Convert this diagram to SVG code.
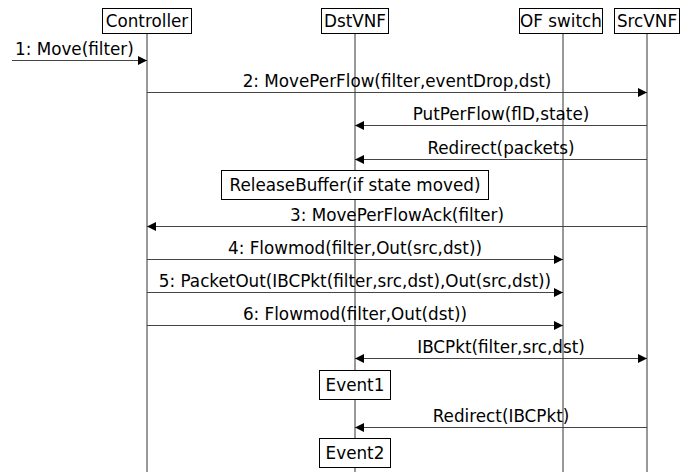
<svg xmlns="http://www.w3.org/2000/svg" width="695" height="472" viewBox="0 0 695 472">
<style>
text{font-family:"DejaVu Sans",sans-serif;font-size:16.8px;fill:#000}
.box{fill:#fff;stroke:#000;stroke-width:1}
.life{stroke:#555;stroke-width:1.2}
.msg{stroke:#444;stroke-width:1;fill:none}
</style>
<defs>
<marker id="ah" markerWidth="9" markerHeight="9" refX="9" refY="4.5" orient="auto" markerUnits="userSpaceOnUse">
<path d="M0,0 L9,4.5 L0,9 Z" fill="#000"/>
</marker>
<marker id="ahs" markerWidth="9" markerHeight="9" refX="0" refY="4.5" orient="auto" markerUnits="userSpaceOnUse">
<path d="M9,0 L0,4.5 L9,9 Z" fill="#000"/>
</marker>
</defs>
<rect width="695" height="472" fill="#fff"/>
<g id="lifelines">
<line class="life" x1="147" y1="33" x2="147" y2="472"/>
<line class="life" x1="355" y1="33" x2="355" y2="472"/>
<line class="life" x1="563" y1="33" x2="563" y2="472"/>
<line class="life" x1="647" y1="33" x2="647" y2="472"/>
</g>
<g id="Controller"><rect class="box" x="102.5" y="8.5" width="89" height="25"/><text x="147" y="27" text-anchor="middle">Controller</text></g>
<g id="DstVNF"><rect class="box" x="321.5" y="8.5" width="67" height="25"/><text x="355" y="27" text-anchor="middle">DstVNF</text></g>
<g id="OFswitch"><rect class="box" x="519.5" y="8.5" width="83" height="25"/><text x="561" y="27" text-anchor="middle">OF switch</text></g>
<g id="SrcVNF"><rect class="box" x="614.5" y="8.5" width="65" height="25"/><text x="647" y="27" text-anchor="middle">SrcVNF</text></g>
<g id="connectors">
<line class="msg" x1="12" y1="60.5" x2="147" y2="60.5" marker-end="url(#ah)"/>
<text x="15" y="55">1: Move(filter)</text>
<line class="msg" x1="147" y1="92.5" x2="647" y2="92.5" marker-end="url(#ah)"/>
<text x="397" y="87" text-anchor="middle">2: MovePerFlow(filter,eventDrop,dst)</text>
<line class="msg" x1="647" y1="125.5" x2="355" y2="125.5" marker-end="url(#ah)"/>
<text x="501" y="120" text-anchor="middle">PutPerFlow(flD,state)</text>
<line class="msg" x1="647" y1="159.5" x2="355" y2="159.5" marker-end="url(#ah)"/>
<text x="501" y="154" text-anchor="middle">Redirect(packets)</text>
<line class="msg" x1="647" y1="226.5" x2="147" y2="226.5" marker-end="url(#ah)"/>
<text x="397" y="221" text-anchor="middle">3: MovePerFlowAck(filter)</text>
<line class="msg" x1="147" y1="259.5" x2="563" y2="259.5" marker-end="url(#ah)"/>
<text x="355" y="254" text-anchor="middle">4: Flowmod(filter,Out(src,dst))</text>
<line class="msg" x1="147" y1="292.5" x2="563" y2="292.5" marker-end="url(#ah)"/>
<text x="355" y="287" text-anchor="middle">5: PacketOut(IBCPkt(filter,src,dst),Out(src,dst))</text>
<line class="msg" x1="147" y1="325.5" x2="563" y2="325.5" marker-end="url(#ah)"/>
<text x="355" y="320" text-anchor="middle">6: Flowmod(filter,Out(dst))</text>
<line class="msg" x1="355" y1="358.5" x2="647" y2="358.5" marker-start="url(#ahs)" marker-end="url(#ah)"/>
<text x="501" y="353" text-anchor="middle">IBCPkt(filter,src,dst)</text>
<line class="msg" x1="647" y1="427.5" x2="355" y2="427.5" marker-end="url(#ah)"/>
<text x="501" y="422" text-anchor="middle">Redirect(IBCPkt)</text>
</g>
<g id="ReleaseBuffer"><rect class="box" x="221.5" y="170.5" width="267" height="29"/><text x="355" y="191" text-anchor="middle">ReleaseBuffer(if state moved)</text></g>
<g id="Event1"><rect class="box" x="319.5" y="370.5" width="71" height="29"/><text x="355" y="391" text-anchor="middle">Event1</text></g>
<g id="Event2"><rect class="box" x="319.5" y="438.5" width="71" height="29"/><text x="355" y="459" text-anchor="middle">Event2</text></g>
</svg>
